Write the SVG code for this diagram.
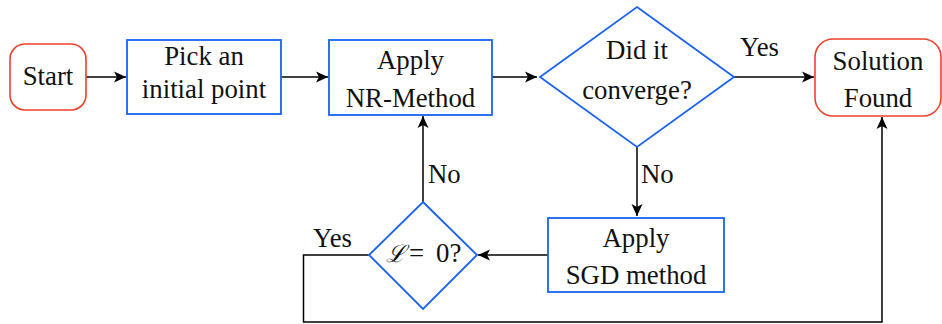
<svg xmlns="http://www.w3.org/2000/svg" width="942" height="324" viewBox="0 0 942 324">
<defs>
<style>
.term{fill:#fff;stroke:#f0402a;stroke-width:1.6}
.proc{fill:#fff;stroke:#1a62f0;stroke-width:1.8}
.c{fill:none;stroke:#000;stroke-width:1.5}
</style>
<marker id="ah" markerUnits="userSpaceOnUse" markerWidth="14" markerHeight="12" refX="12" refY="6" orient="auto">
<path d="M0,0.5 L12,6 L0,11.5 L3,6 z" fill="#000"/>
</marker>
</defs>
<rect width="942" height="324" fill="#fff"/>
<g font-family="Liberation Serif, 'Times New Roman', serif" font-size="26.8" fill="#111">
<g id="connectors">
<path class="c" d="M86,77 H126" marker-end="url(#ah)"/>
<path class="c" d="M281,77 H328" marker-end="url(#ah)"/>
<path class="c" d="M492,77 H537" marker-end="url(#ah)"/>
<path class="c" d="M734,77 H814" marker-end="url(#ah)"/>
<path class="c" d="M637,147 V216" marker-end="url(#ah)"/>
<path class="c" d="M548,255 H478" marker-end="url(#ah)"/>
<path class="c" d="M423,202 V116" marker-end="url(#ah)"/>
<path class="c" d="M369,255 H303.5 V322 H882 V117" marker-end="url(#ah)"/>
<text x="740" y="56">Yes</text>
<text x="641" y="183">No</text>
<text x="428" y="183">No</text>
<text x="313" y="247">Yes</text>
</g>
<g text-anchor="middle">
<g id="start">
<rect class="term" x="10" y="44" width="76" height="66" rx="15"/>
<text x="48" y="85">Start</text>
</g>
<g id="pick">
<rect class="proc" x="127" y="40" width="154" height="74"/>
<text x="204" y="65">Pick an</text>
<text x="204" y="98">initial point</text>
</g>
<g id="nr">
<rect class="proc" x="329" y="40" width="163" height="75"/>
<text x="410.5" y="69">Apply</text>
<text x="410.5" y="107">NR-Method</text>
</g>
<g id="converge">
<polygon class="proc" points="637,7 734,77 637,147 540,77"/>
<text x="637" y="59">Did it</text>
<text x="637" y="99">converge?</text>
</g>
<g id="solution">
<rect class="term" x="815" y="39" width="126" height="77" rx="18"/>
<text x="878" y="70">Solution</text>
<text x="878" y="107">Found</text>
</g>
<g id="sgd">
<rect class="proc" x="548" y="218" width="176" height="74"/>
<text x="636" y="247">Apply</text>
<text x="636" y="284">SGD method</text>
</g>
</g>
<g id="lzero">
<polygon class="proc" points="423,202 477,255 423,309 369,255"/>
<text y="262"><tspan x="386" font-family="DejaVu Serif" font-style="italic" font-size="24">ℒ</tspan><tspan x="409">=</tspan><tspan x="436">0?</tspan></text>
</g>
</g>
</svg>
